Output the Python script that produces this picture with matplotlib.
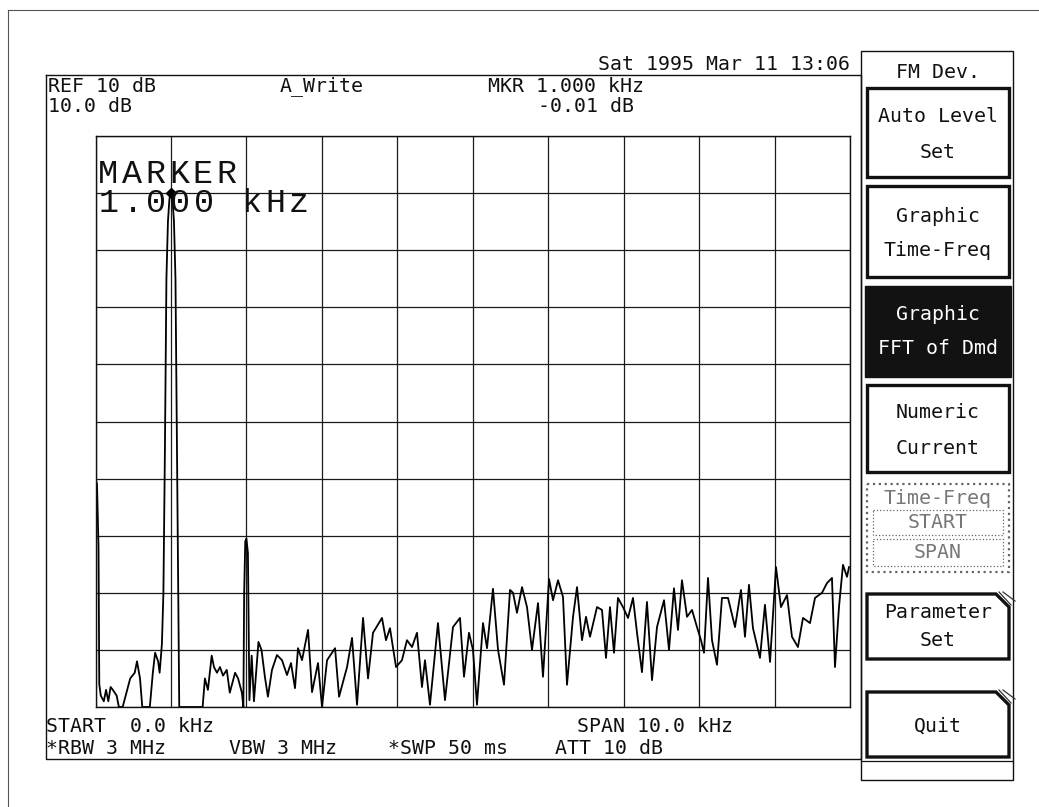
import matplotlib
matplotlib.use('Agg')
from matplotlib import pyplot as plt
from matplotlib.patches import Rectangle, Polygon

# FFT of demodulated signal, 0-10 kHz, REF 10 dB, 10 dB/div
freq_khz = [
    0.00, 0.02, 0.04, 0.05, 0.07, 0.11, 0.14, 0.17, 0.20, 0.23, 0.28, 0.31, 0.36,
    0.42, 0.46, 0.52, 0.55, 0.59, 0.62, 0.72, 0.76, 0.79, 0.83, 0.85, 0.88,
    0.90, 0.92, 0.94, 0.96, 0.98, 1.00, 1.02, 1.04, 1.06, 1.08, 1.10, 1.11,
    1.42, 1.45, 1.49, 1.54, 1.57, 1.61, 1.65, 1.69, 1.74, 1.78, 1.85, 1.89,
    1.94, 1.96, 1.97, 1.985, 2.00, 2.02, 2.04, 2.07, 2.10, 2.16, 2.20,
    2.245, 2.285, 2.339, 2.405, 2.472, 2.538, 2.591, 2.644, 2.684, 2.737,
    2.817, 2.870, 2.949, 3.002, 3.069, 3.175, 3.228, 3.334, 3.400, 3.466,
    3.546, 3.612, 3.678, 3.797, 3.850, 3.903, 3.983, 4.062, 4.128, 4.195,
    4.261, 4.327, 4.367, 4.433, 4.539, 4.632, 4.738, 4.831, 4.884,
    4.950, 5.003, 5.056, 5.136, 5.189, 5.268, 5.335, 5.414, 5.494, 5.534,
    5.586, 5.653, 5.719, 5.785, 5.865, 5.931, 6.011, 6.064, 6.130, 6.196,
    6.249, 6.329, 6.382, 6.448, 6.501, 6.554, 6.647, 6.713, 6.766, 6.819,
    6.872, 6.925, 6.991, 7.058, 7.124, 7.177, 7.243, 7.309, 7.376, 7.442,
    7.535, 7.601, 7.667, 7.720, 7.773, 7.840, 7.906, 7.972, 8.025, 8.065,
    8.118, 8.171, 8.237, 8.303, 8.383, 8.476, 8.555, 8.608, 8.661, 8.714,
    8.807, 8.873, 8.940, 9.019, 9.085, 9.165, 9.231, 9.310, 9.377, 9.470,
    9.536, 9.629, 9.695, 9.761, 9.801, 9.854, 9.907, 9.960, 9.987,
]
level_db = [
    -50, -51, -62, -86, -88, -89, -87, -89, -86.5, -87, -88, -90, -90,
    -87, -85, -84, -82, -85, -90, -90, -84, -80.5, -82, -84, -79,
    -70, -45, -15, -5, -1, 0, -1, -5, -15, -45, -75, -90,
    -90, -85, -87, -81, -83, -84, -83, -84.5, -83.5, -87.5, -84, -85,
    -87.5, -90, -70, -61, -60.5, -63, -88.8, -81, -89, -78.6, -80,
    -84.7, -88.2, -83.5, -80.9, -81.8, -84.4, -82.3, -86.7, -79.7, -81.8,
    -76.5, -87.4, -82.3, -90, -81.8, -79.7, -88.2, -83, -77.9, -89.6,
    -74.4, -85, -77, -74.4, -78.3, -76.2, -83, -81.8, -78.3, -79.5,
    -77, -86.5, -81.8, -89.6, -75.3, -88.8, -76, -74.4, -84.7,
    -77, -80, -89.6, -75.3, -79.7, -69.3, -80, -86.1, -69.5, -70,
    -73.5, -69, -72.5, -80, -71.8, -84.7, -67.6, -71.3, -67.8, -70.7,
    -86.1, -74.2, -69, -78.3, -74.2, -77.7, -72.5, -73, -81.4, -72.5,
    -80.5, -70.9, -72.5, -74.4, -70.9, -77, -83.9, -71.6, -85.3, -76,
    -71.3, -80, -69.2, -76.5, -67.8, -74.2, -73, -76, -78.3, -80.5,
    -67.4, -78.3, -82.6, -70.9, -70.9, -76, -69.5, -77.7, -68.6, -76.2,
    -81.4, -72.1, -82.1, -65.5, -72.5, -70.4, -77.7, -79.5, -74.4, -75.3,
    -70.9, -70, -68.3, -67.4, -83, -72.5, -65.1, -67.2, -65.5,
]

header_lines = [
    ('REF 10 dB', 48, 86), ('10.0 dB', 48, 107), ('A_Write', 280, 86),
    ('MKR 1.000 kHz', 488, 86), ('-0.01 dB', 538, 107),
    ('Sat 1995 Mar 11 13:06', 598, 64),
    ('START  0.0 kHz', 46, 727), ('SPAN 10.0 kHz', 577, 727),
    ('*RBW 3 MHz', 46, 749), ('VBW 3 MHz', 229, 749),
    ('*SWP 50 ms', 388, 749), ('ATT 10 dB', 555, 749),
]

W, H = 1039, 807
MONO = 'DejaVu Sans Mono'
FS = 14.3

fig = plt.figure(figsize=(W / 100, H / 100), dpi=100)
fig.patch.set_facecolor('white')

# trace area
gx0, gx1, gy0, gy1 = 95.5, 850, 136, 707
ax = fig.add_axes([gx0 / W, 1 - gy1 / H, (gx1 - gx0) / W, (gy1 - gy0) / H])
ax.set_xlim(0, 10)
ax.set_ylim(-90, 10)
ax.set_xticks(range(0, 11))
ax.set_yticks(range(-90, 11, 10))
ax.grid(True, color='#1a1a1a', lw=0.9)
ax.tick_params(length=0, labelbottom=False, labelleft=False)
for s in ax.spines.values():
    s.set_linewidth(1.0)
    s.set_color('#111111')
ax.plot(freq_khz, level_db, color='black', lw=1.3)
ax.plot([1.0], [0], marker='D', ms=5, color='black')

# overlay in pixel coordinates
ov = fig.add_axes([0, 0, 1, 1], zorder=5)
ov.set_xlim(0, W)
ov.set_ylim(H, 0)
ov.axis('off')
ov.patch.set_alpha(0)

# page border
ov.plot([8, 8], [10, H], color='#555555', lw=0.8)
ov.plot([8, W], [10, 10], color='#555555', lw=0.8)

# screen frame
ov.plot([46, 861, 861, 46, 46], [75, 75, 759, 759, 75], color='#111111', lw=1.0)

for txt, x, y in header_lines:
    ov.text(x, y, txt, family=MONO, fontsize=FS, ha='left', va='center', color='#111111')

# marker readout in big type
for row, (txt, x, y) in enumerate([('MARKER', 98, 183), ('1.000 kHz', 99, 212)]):
    for i, ch in enumerate(txt):
        ov.text(x + i * 23.7, y, ch, family='Liberation Mono', fontsize=24,
                ha='left', va='baseline', color='#111111')

# softkey panel
px0, px1 = 861, 1013
bx0, bx1 = 867, 1009
cx = (bx0 + bx1) / 2
ov.add_patch(Rectangle((px0, 51), px1 - px0, 780 - 51, fill=False, lw=1.0, ec='#111111'))
ov.text(cx, 72, 'FM Dev.', family=MONO, fontsize=FS, ha='center', va='center', color='#111111')

buttons = [
    (88, 177, ['Auto Level', 'Set'], [117, 152], 'plain'),
    (186, 277, ['Graphic', 'Time-Freq'], [216, 251], 'plain'),
    (286, 377, ['Graphic', 'FFT of Dmd'], [314, 349], 'dark'),
    (385, 472, ['Numeric', 'Current'], [413, 448], 'plain'),
    (594, 659, ['Parameter', 'Set'], [612, 640], 'corner'),
    (692, 757, ['Quit'], [726], 'corner'),
]
for y0, y1, labels, ys, style in buttons:
    if style == 'dark':
        ov.add_patch(Rectangle((bx0 - 2, y0), bx1 - bx0 + 4, y1 - y0, fc='#121212', ec='#121212'))
        col = 'white'
    elif style == 'corner':
        c = 13
        ov.add_patch(Polygon([(bx0, y0), (bx1 - c, y0), (bx1, y0 + c), (bx1, y1), (bx0, y1)],
                             closed=True, fill=False, lw=2.4, ec='#111111'))
        for d in (3, 7):
            ov.plot([bx1 - c + d, bx1 + d - 1], [y0 - 2, y0 + c - d + 1], color='#333333', lw=0.9)
        col = '#111111'
    else:
        ov.add_patch(Rectangle((bx0, y0), bx1 - bx0, y1 - y0, fill=False, lw=2.4, ec='#111111'))
        col = '#111111'
    for lab, y in zip(labels, ys):
        ov.text(cx, y, lab, family=MONO, fontsize=FS, ha='center', va='center', color=col)

# greyed-out Time-Freq group
ov.add_patch(Rectangle((bx0, 484), bx1 - bx0, 572 - 484, fill=False, lw=1.6, ls=':', ec='#666666'))
ov.text(cx, 498, 'Time-Freq', family=MONO, fontsize=FS, ha='center', va='center', color='#777777')
for y0, y1, lab in [(510, 535, 'START'), (539, 566, 'SPAN')]:
    ov.add_patch(Rectangle((873, y0), 1003 - 873, y1 - y0, fill=False, lw=0.9, ls=':', ec='#666666'))
    ov.text(cx, (y0 + y1) / 2, lab, family=MONO, fontsize=FS, ha='center', va='center', color='#777777')

ov.plot([px0, px1], [761, 761], color='#111111', lw=0.9)

fig.savefig('out.png', dpi=100)
